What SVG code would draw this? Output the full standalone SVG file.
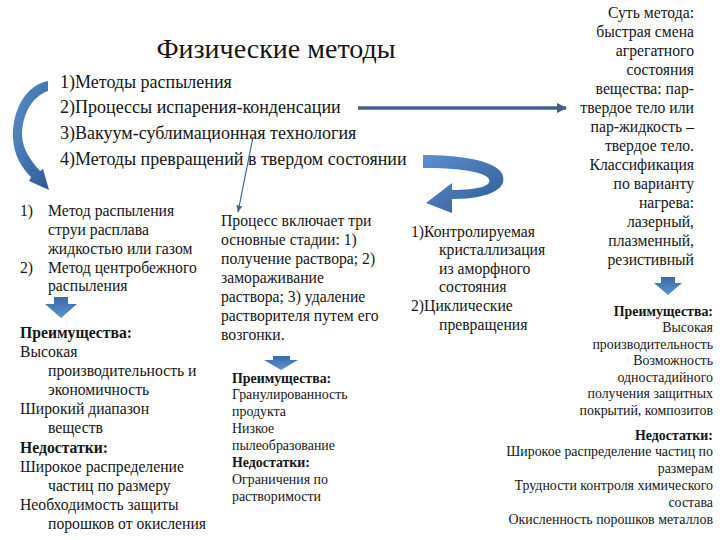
<svg xmlns="http://www.w3.org/2000/svg" width="720" height="540" viewBox="0 0 720 540">
<style>
text{font-family:"Liberation Serif","Times New Roman",serif;fill:#151515}
.t{font-size:28px}
.l{font-size:18px}
.m{font-size:15.7px}
.s{font-size:13.9px}
.b{font-weight:bold}
.r{text-anchor:end}
.blk{fill:url(#bg)}
</style>
<defs>
<linearGradient id="bg" x1="0" y1="0" x2="1" y2="1">
<stop offset="0" stop-color="#5b8fd0"/>
<stop offset="1" stop-color="#2e5a94"/>
</linearGradient>
<linearGradient id="bgv" x1="0" y1="0" x2="0" y2="1">
<stop offset="0" stop-color="#3a6aa8"/>
<stop offset="1" stop-color="#5c92d2"/>
</linearGradient>
<marker id="ah" viewBox="0 0 10 10" refX="9" refY="5" markerWidth="3" markerHeight="3" orient="auto">
<path d="M0,0 L10,5 L0,10 Z" fill="#3f5f86"/>
</marker>
<marker id="ah2" viewBox="0 0 10 10" refX="9" refY="5" markerWidth="6" markerHeight="6" orient="auto">
<path d="M0,1 L10,5 L0,9 Z" fill="#3d6690"/>
</marker>
</defs>
<rect width="720" height="540" fill="#fff"/>

<g id="title">
<text class="t" x="276" y="58" text-anchor="middle">Физические методы</text>
</g>

<g id="methods">
<text class="l" x="60" y="88">1)Методы распыления</text>
<text class="l" x="60" y="113">2)Процессы испарения-конденсации</text>
<text class="l" x="60" y="139">3)Вакуум-сублимационная технология</text>
<text class="l" x="60" y="165">4)Методы превращений в твердом состоянии</text>
</g>

<g id="connectors">
<path class="blk" d="M48,81 C26,85 12,110 13,138 C14,155 21,167 31,177 L29,181 L49,190 L43,169 L40,171 C31,161 23,150 22,136 C22,113 33,96 48,91 Z"/>
<line x1="358" y1="108" x2="566" y2="108" stroke="#3f5f86" stroke-width="3.5" marker-end="url(#ah)"/>
<line x1="253" y1="137" x2="238" y2="212" stroke="#3d6690" stroke-width="1.2" marker-end="url(#ah2)"/>
<path class="blk" d="M423,155 C458,155 492,160 501,172 C510,186 494,199 452,199 L452,213 L426,203 L452,183 L452,190 C478,190 492,186 489,179 C484,171 456,168 423,168 Z"/>
<path fill="url(#bgv)" d="M54,297 H68 V304 H77 L61,318 L45,304 H54 Z"/>
<path fill="url(#bgv)" d="M273,356 H290 V360 H298 L281,370 L264,360 H273 Z"/>
<path fill="url(#bgv)" d="M661,277 H675 V283 H682 L668,295 L654,283 H661 Z"/>
</g>

<g id="spray">
<text class="m" x="20" y="216">1)</text>
<text class="m" x="48" y="216">Метод распыления</text>
<text class="m" x="48" y="235">струи расплава</text>
<text class="m" x="48" y="254">жидкостью или газом</text>
<text class="m" x="20" y="273">2)</text>
<text class="m" x="48" y="273">Метод центробежного</text>
<text class="m" x="48" y="291">распыления</text>
<text class="m b" x="20" y="338">Преимущества:</text>
<text class="m" x="20" y="357">Высокая</text>
<text class="m" x="48" y="376">производительность и</text>
<text class="m" x="48" y="395">экономичность</text>
<text class="m" x="20" y="414">Широкий диапазон</text>
<text class="m" x="48" y="433">веществ</text>
<text class="m b" x="20" y="453">Недостатки:</text>
<text class="m" x="20" y="472">Широкое распределение</text>
<text class="m" x="48" y="491">частиц по размеру</text>
<text class="m" x="20" y="510">Необходимость защиты</text>
<text class="m" x="48" y="529">порошков от окисления</text>
</g>

<g id="vacuum">
<text class="m" x="221" y="226">Процесс включает три</text>
<text class="m" x="221" y="245">основные стадии: 1)</text>
<text class="m" x="221" y="264">получение раствора; 2)</text>
<text class="m" x="221" y="283">замораживание</text>
<text class="m" x="221" y="302">раствора; 3) удаление</text>
<text class="m" x="221" y="321">растворителя путем его</text>
<text class="m" x="221" y="340">возгонки.</text>
</g>

<g id="vacuum-pros">
<text class="s b" x="232" y="383">Преимущества:</text>
<text class="s" x="232" y="399">Гранулированность</text>
<text class="s" x="232" y="416">продукта</text>
<text class="s" x="232" y="433">Низкое</text>
<text class="s" x="232" y="450">пылеобразование</text>
<text class="s b" x="232" y="467">Недостатки:</text>
<text class="s" x="232" y="484">Ограничения по</text>
<text class="s" x="232" y="501">растворимости</text>
</g>

<g id="solid">
<text class="m" x="411" y="237">1)Контролируемая</text>
<text class="m" x="439" y="255">кристаллизация</text>
<text class="m" x="439" y="274">из аморфного</text>
<text class="m" x="439" y="292">состояния</text>
<text class="m" x="411" y="311">2)Циклические</text>
<text class="m" x="439" y="330">превращения</text>
</g>

<g id="evaporation">
<text class="m r" x="694" y="18">Суть метода:</text>
<text class="m r" x="694" y="37">быстрая смена</text>
<text class="m r" x="694" y="56">агрегатного</text>
<text class="m r" x="694" y="75">состояния</text>
<text class="m r" x="694" y="94">вещества: пар-</text>
<text class="m r" x="694" y="113">твердое тело или</text>
<text class="m r" x="694" y="132">пар-жидкость –</text>
<text class="m r" x="694" y="151">твердое тело.</text>
<text class="m r" x="694" y="170">Классификация</text>
<text class="m r" x="694" y="189">по варианту</text>
<text class="m r" x="694" y="208">нагрева:</text>
<text class="m r" x="694" y="227">лазерный,</text>
<text class="m r" x="694" y="246">плазменный,</text>
<text class="m r" x="694" y="265">резистивный</text>
</g>

<g id="evaporation-pros">
<text class="s b r" x="713" y="316">Преимущества:</text>
<text class="s r" x="713" y="332">Высокая</text>
<text class="s r" x="713" y="349">производительность</text>
<text class="s r" x="713" y="365">Возможность</text>
<text class="s r" x="713" y="382">одностадийного</text>
<text class="s r" x="713" y="398">получения защитных</text>
<text class="s r" x="713" y="415">покрытий, композитов</text>
<text class="s b r" x="713" y="440">Недостатки:</text>
<text class="s r" x="713" y="456">Широкое распределение частиц по</text>
<text class="s r" x="713" y="473">размерам</text>
<text class="s r" x="713" y="490">Трудности контроля химического</text>
<text class="s r" x="713" y="507">состава</text>
<text class="s r" x="713" y="524">Окисленность порошков металлов</text>
</g>
</svg>
